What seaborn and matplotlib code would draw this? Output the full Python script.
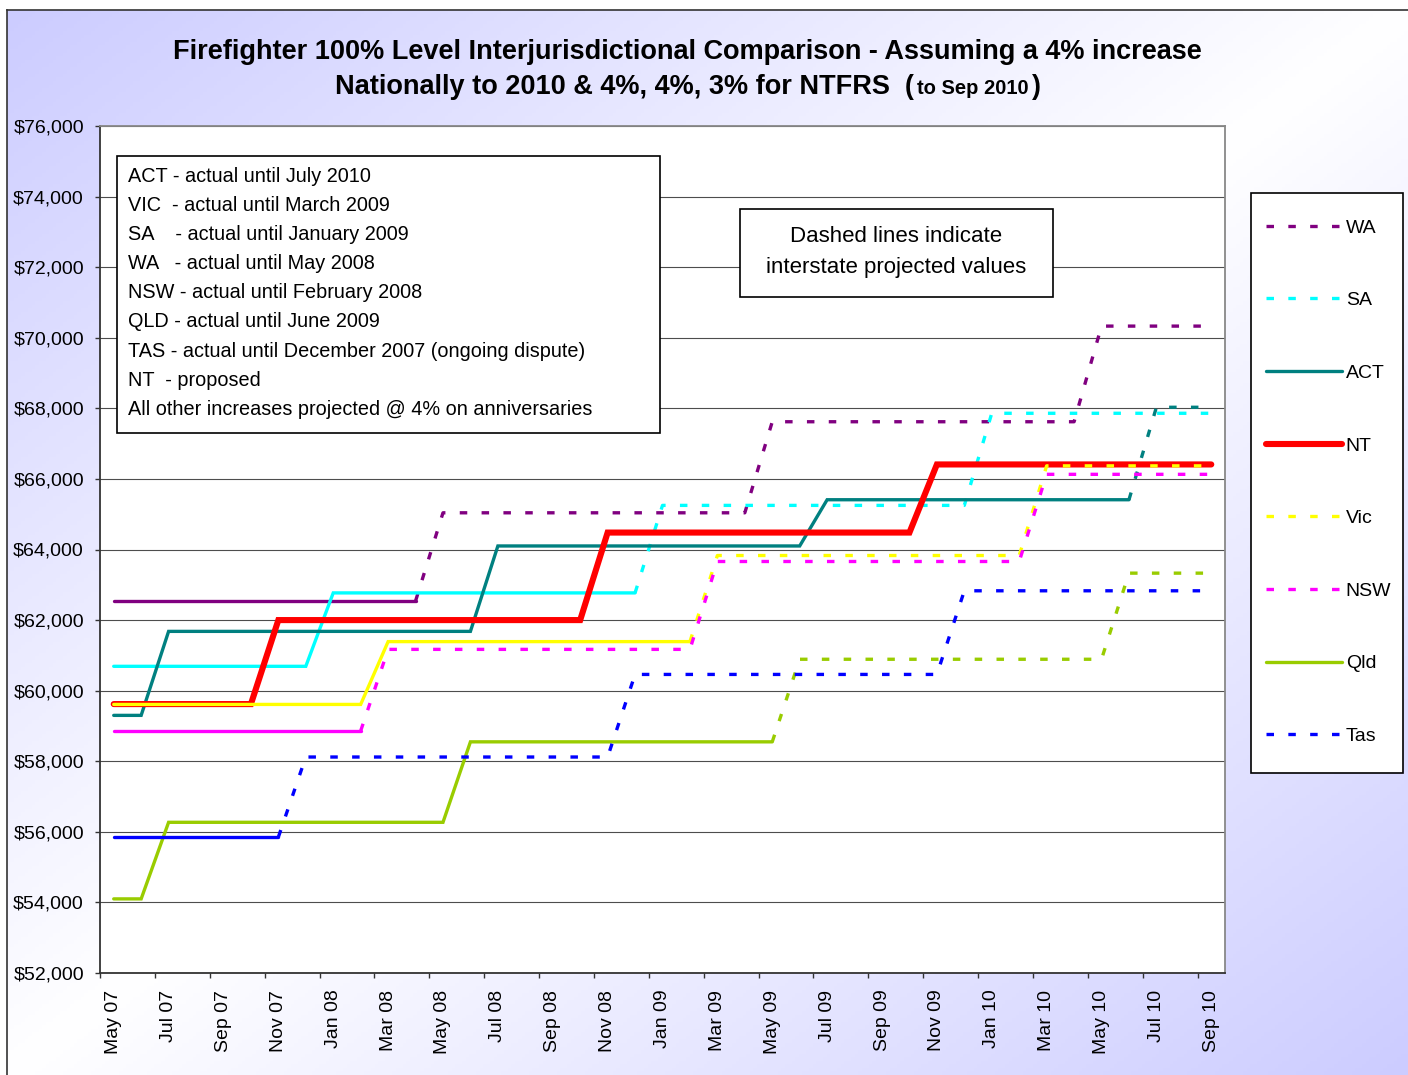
import numpy as np
import pandas as pd
import matplotlib
matplotlib.use("Agg")
import matplotlib.pyplot as plt
import seaborn as sns
from matplotlib.lines import Line2D
from matplotlib.patches import Rectangle
from matplotlib.ticker import FuncFormatter

# ---- data -------------------------------------------------------------
MONTHS = ['May 07', 'Jun 07', 'Jul 07', 'Aug 07', 'Sep 07', 'Oct 07', 'Nov 07', 'Dec 07',
          'Jan 08', 'Feb 08', 'Mar 08', 'Apr 08', 'May 08', 'Jun 08', 'Jul 08', 'Aug 08',
          'Sep 08', 'Oct 08', 'Nov 08', 'Dec 08', 'Jan 09', 'Feb 09', 'Mar 09', 'Apr 09',
          'May 09', 'Jun 09', 'Jul 09', 'Aug 09', 'Sep 09', 'Oct 09', 'Nov 09', 'Dec 09',
          'Jan 10', 'Feb 10', 'Mar 10', 'Apr 10', 'May 10', 'Jun 10', 'Jul 10', 'Aug 10',
          'Sep 10']
TICK_LABELS = ['May 07', 'Jul 07', 'Sep 07', 'Nov 07', 'Jan 08', 'Mar 08', 'May 08',
               'Jul 08', 'Sep 08', 'Nov 08', 'Jan 09', 'Mar 09', 'May 09', 'Jul 09',
               'Sep 09', 'Nov 09', 'Jan 10', 'Mar 10', 'May 10', 'Jul 10', 'Sep 10']

SERIES = ['WA', 'SA', 'ACT', 'NT', 'Vic', 'NSW', 'Qld', 'Tas']

# month of each pay increase and the new annual rate
WA_CHANGES = ['May 07', 'May 08', 'May 09', 'May 10']
WA_RATES = [62540, 65040, 67620, 70330]
SA_CHANGES = ['May 07', 'Jan 08', 'Jan 09', 'Jan 10']
SA_RATES = [60690, 62770, 65250, 67860]
ACT_CHANGES = ['May 07', 'Jul 07', 'Jul 08', 'Jul 09', 'Jul 10']
ACT_RATES = [59300, 61680, 64100, 65410, 68030]
NT_CHANGES = ['May 07', 'Nov 07', 'Nov 08', 'Nov 09']
NT_RATES = [59620, 62000, 64480, 66410]
VIC_CHANGES = ['May 07', 'Mar 08', 'Mar 09', 'Mar 10']
VIC_RATES = [59610, 61390, 63830, 66370]
NSW_CHANGES = ['May 07', 'Mar 08', 'Mar 09', 'Mar 10']
NSW_RATES = [58860, 61170, 63660, 66130]
QLD_CHANGES = ['May 07', 'Jul 07', 'Jun 08', 'Jun 09', 'Jun 10']
QLD_RATES = [54100, 56270, 58550, 60890, 63330]
TAS_CHANGES = ['May 07', 'Dec 07', 'Dec 08', 'Dec 09']
TAS_RATES = [55850, 58120, 60460, 62830]

# last month drawn solid (actual), after that the line is dashed (projected)
SOLID_UNTIL = ['Apr 08', 'Dec 08', 'Jun 10', 'Sep 10', 'Feb 09', 'Feb 08', 'May 09', 'Nov 07']

TITLE_1 = 'Firefighter 100% Level Interjurisdictional Comparison - Assuming a 4% increase'
TITLE_2 = ['Nationally to 2010 & 4%, 4%, 3% for NTFRS  (', 'to Sep 2010', ')']
NOTES = ['ACT - actual until July 2010',
         'VIC  - actual until March 2009',
         'SA    - actual until January 2009',
         'WA   - actual until May 2008',
         'NSW - actual until February 2008',
         'QLD - actual until June 2009',
         'TAS - actual until December 2007 (ongoing dispute)',
         'NT  - proposed',
         'All other increases projected @ 4% on anniversaries']
DASH_NOTE = ['Dashed lines indicate', 'interstate projected values']

# ---- styles -----------------------------------------------------------
COLORS = ['#800080', '#00FFFF', '#008080', '#FF0000', '#FFFF00', '#FF00FF', '#99CC00', '#0000FF']
LEGEND_DASHED = [True, True, False, False, True, True, False, True]
DASH = (0, (2.25, 4.3))

W, H = 1408, 1075


def px(x):
    return x / W


def py(y):
    return 1 - y / H


def monthly(changes, rates):
    s = pd.Series(np.nan, index=MONTHS)
    s[changes] = rates
    return s.ffill()


steps = [(WA_CHANGES, WA_RATES), (SA_CHANGES, SA_RATES), (ACT_CHANGES, ACT_RATES),
         (NT_CHANGES, NT_RATES), (VIC_CHANGES, VIC_RATES), (NSW_CHANGES, NSW_RATES),
         (QLD_CHANGES, QLD_RATES), (TAS_CHANGES, TAS_RATES)]
frames = []
for name, (ch, rt) in zip(SERIES, steps):
    s = monthly(ch, rt)
    frames.append(pd.DataFrame({'state': name, 'month': MONTHS,
                                'pos': np.arange(len(MONTHS)), 'rate': s.values}))
df = pd.concat(frames, ignore_index=True)

sns.set_theme(style='white')
plt.rcParams['font.family'] = ['Liberation Sans', 'DejaVu Sans']
plt.rcParams['text.color'] = 'black'

fig = plt.figure(figsize=(W / 100, H / 100), dpi=100, facecolor='white')

# gradient background of the chart area
bg = fig.add_axes([px(7), 0, 1 - px(7), py(10)], zorder=-1)
u = np.linspace(0, 1, 400)
v = np.linspace(0, 1, 300)
t = np.abs(u[None, :] + v[:, None] - 1)
lav = np.array([0.80, 0.80, 1.0])
img = (1 - t[..., None]) * 1.0 + t[..., None] * lav
bg.imshow(img, aspect='auto', extent=[0, 1, 0, 1], origin='upper')
bg.set_xticks([])
bg.set_yticks([])
for side in ['right', 'bottom']:
    bg.spines[side].set_visible(False)
for side in ['left', 'top']:
    bg.spines[side].set_color('#333333')
    bg.spines[side].set_linewidth(1.2)

ax = fig.add_axes([px(100), py(973), px(1225) - px(100), py(126) - py(973)], zorder=1)
ax.set_facecolor('white')

for k, name in enumerate(SERIES):
    sub = df[df['state'] == name]
    cut = MONTHS.index(SOLID_UNTIL[k])
    lw = 4.4 if name == 'NT' else 2.4
    solid = sub[sub['pos'] <= cut]
    dashed = sub[sub['pos'] >= cut]
    sns.lineplot(data=solid, x='pos', y='rate', ax=ax, color=COLORS[k], lw=lw,
                 estimator=None, legend=False, zorder=3 + k,
                 solid_capstyle='round', solid_joinstyle='miter')
    if len(dashed) > 1:
        sns.lineplot(data=dashed, x='pos', y='rate', ax=ax, color=COLORS[k], lw=lw,
                     estimator=None, legend=False, zorder=3 + k, linestyle=DASH,
                     dash_capstyle='butt')

ax.set_xlim(-0.5, 40.5)
ax.set_ylim(52000, 76000)
ax.set_xlabel('')
ax.set_ylabel('')
ax.set_yticks(np.arange(52000, 76001, 2000))
ax.yaxis.set_major_formatter(FuncFormatter(lambda val, _: f'${val:,.0f}'))
ax.set_xticks(np.arange(0, 41, 2))
ax.set_xticklabels(TICK_LABELS, rotation=90)
ax.set_xticks(np.arange(-0.5, 40, 2), minor=True)
ax.tick_params(axis='x', which='major', length=0, pad=12, labelsize=14, colors='black')
ax.tick_params(axis='x', which='minor', bottom=True, length=3.6, width=1, color='#333333',
               direction='out')
ax.tick_params(axis='y', left=True, length=3.6, width=1, color='#333333', pad=8,
               labelsize=14, labelcolor='black', direction='out')
ax.yaxis.grid(True, color='#4d4d4d', lw=0.8)
ax.xaxis.grid(False)
ax.set_axisbelow(True)
for side in ['left', 'bottom']:
    ax.spines[side].set_color('#333333')
    ax.spines[side].set_linewidth(1.3)
for side in ['top', 'right']:
    ax.spines[side].set_color('#888888')
    ax.spines[side].set_linewidth(1.3)

# notes box
ax.add_patch(Rectangle((px(117), py(433)), px(660) - px(117), py(156) - py(433),
                       transform=fig.transFigure, facecolor='white', edgecolor='black',
                       lw=1.2, clip_on=False, zorder=20))
for i, line in enumerate(NOTES):
    ax.text(px(128), py(176 + i * 29.2), line, transform=fig.transFigure, fontsize=14.3,
            ha='left', va='center', zorder=21, color='black')

# dashed-lines note
ax.add_patch(Rectangle((px(740), py(297)), px(1053) - px(740), py(209) - py(297),
                       transform=fig.transFigure, facecolor='white', edgecolor='black',
                       lw=1.2, clip_on=False, zorder=20))
for i, line in enumerate(DASH_NOTE):
    ax.text(px(896.5), py(236 + i * 32), line, transform=fig.transFigure, fontsize=16,
            ha='center', va='center', zorder=21, color='black')

# legend
ax.add_patch(Rectangle((px(1251), py(773)), px(1403) - px(1251), py(193) - py(773),
                       transform=fig.transFigure, facecolor='white', edgecolor='black',
                       lw=1.2, clip_on=False, zorder=20))
handles = []
for k, name in enumerate(SERIES):
    lw = 4.4 if name == 'NT' else 2.4
    handles.append(Line2D([], [], color=COLORS[k], lw=lw,
                          linestyle=DASH if LEGEND_DASHED[k] else '-',
                          solid_capstyle='round', dash_capstyle='butt'))
leg = ax.legend(handles, SERIES, loc='upper left', bbox_to_anchor=(px(1266), py(219)),
                bbox_transform=fig.transFigure, frameon=False, fontsize=14,
                handlelength=3.9, handletextpad=0.2, labelspacing=2.83,
                borderpad=0, borderaxespad=0, labelcolor='black')
leg.set_zorder(22)

# title
fig.text(px(687.5), py(59), TITLE_1, ha='center', va='baseline', fontsize=19.5,
         weight='bold', color='black')
sizes = [19.5, 14.5, 19.5]
parts = [fig.text(0, py(94), s, ha='left', va='baseline', fontsize=fs, weight='bold',
                  color='black')
         for s, fs in zip(TITLE_2, sizes)]
renderer = fig.canvas.get_renderer()
widths = [p.get_window_extent(renderer=renderer).width for p in parts]
gap = 3
x0 = 688 - (sum(widths) + gap * 2) / 2
for p, w in zip(parts, widths):
    p.set_x(px(x0))
    x0 += w + gap

fig.savefig('out.png', dpi=100, facecolor='white')
